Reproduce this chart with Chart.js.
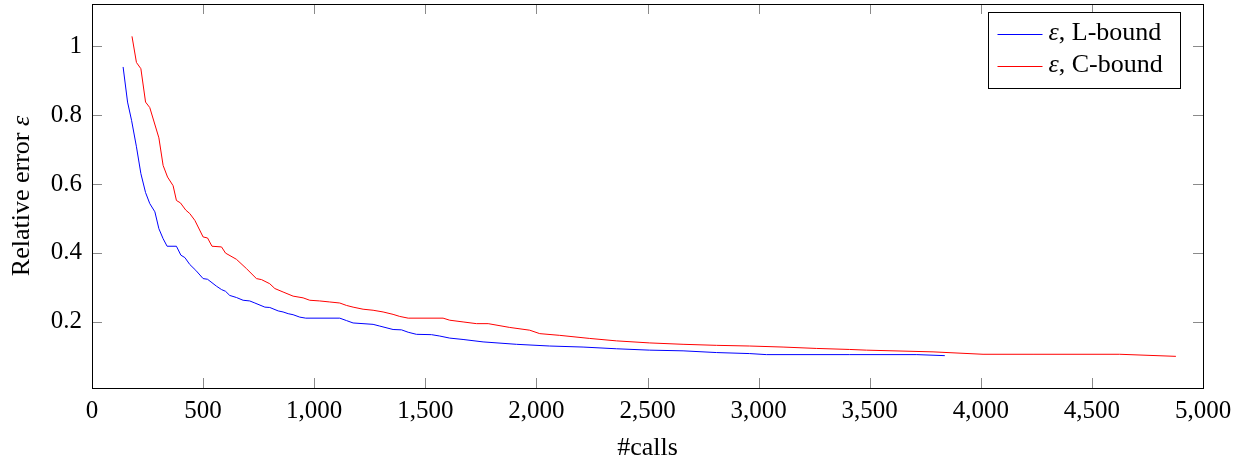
<!DOCTYPE html>
<html>
<head>
<meta charset="utf-8">
<script src="https://cdn.jsdelivr.net/npm/chart.js@4.4.0/dist/chart.umd.min.js"></script>
<style>
  html, body { margin: 0; padding: 0; background: #ffffff; }
  #wrap { width: 1245px; height: 467px; }
</style>
</head>
<body>
<div id="wrap"><canvas id="chart" width="1245" height="467"></canvas></div>
<script>
// ---- data ----
const lBoundX = [140, 160, 178, 200, 220, 241, 260, 283, 301, 320, 338, 380, 400, 418, 440, 467, 500, 520, 560, 583,
    601, 620, 650, 680, 710, 733, 778, 800, 838, 860, 883, 905, 935, 962, 1115, 1145, 1175, 1265, 1295, 1355,
    1393, 1423, 1460, 1528, 1565, 1610, 1670, 1760, 1910, 2060, 2210, 2360, 2510, 2660, 2810, 2960, 3035, 3410, 3712, 3838];
const lBoundY = [0.940, 0.838, 0.785, 0.708, 0.630, 0.575, 0.543, 0.519, 0.470, 0.441, 0.419, 0.419, 0.393, 0.386, 0.366, 0.349, 0.325, 0.323, 0.303, 0.293,
    0.288, 0.276, 0.270, 0.262, 0.260, 0.254, 0.242, 0.241, 0.231, 0.228, 0.223, 0.220, 0.213, 0.210, 0.210, 0.203, 0.196, 0.192, 0.187, 0.177,
    0.176, 0.169, 0.163, 0.162, 0.158, 0.152, 0.148, 0.141, 0.134, 0.129, 0.126, 0.121, 0.117, 0.115, 0.110, 0.107, 0.104, 0.104, 0.104, 0.101];

const cBoundX = [180, 200, 220, 241, 260, 301, 320, 340, 365, 380, 398, 422, 440, 463, 500, 520, 540, 583, 601, 650,
    695, 740, 763, 800, 823, 860, 905, 950, 980, 1025, 1070, 1115, 1145, 1175, 1220, 1265, 1310, 1355, 1385, 1423,
    1580, 1610, 1670, 1730, 1783, 1880, 1970, 2015, 2105, 2240, 2360, 2510, 2660, 2810, 2960, 3110, 3260, 3410, 3485, 3785,
    4010, 4235, 4625, 4878];
const cBoundY = [1.029, 0.953, 0.935, 0.838, 0.822, 0.734, 0.654, 0.620, 0.595, 0.552, 0.545, 0.524, 0.514, 0.494, 0.446, 0.443, 0.419, 0.417, 0.399, 0.381,
    0.354, 0.325, 0.322, 0.310, 0.296, 0.286, 0.274, 0.269, 0.262, 0.260, 0.257, 0.254, 0.247, 0.242, 0.236, 0.233, 0.228, 0.221, 0.215, 0.210,
    0.210, 0.204, 0.199, 0.194, 0.194, 0.183, 0.175, 0.165, 0.160, 0.151, 0.144, 0.138, 0.134, 0.131, 0.129, 0.126, 0.122, 0.119, 0.117, 0.112,
    0.105, 0.105, 0.105, 0.099];

const xTicks = [0, 500, 1000, 1500, 2000, 2500, 3000, 3500, 4000, 4500, 5000];
const yTicks = [0.2, 0.4, 0.6, 0.8, 1];

const seriesLabels = ['L-bound', 'C-bound'];
const seriesColors = ['#0000ff', '#ff0000'];
const yTitle = 'Relative error ';

const toPoints = (xs, ys) => xs.map((x, i) => ({ x: x, y: ys[i] }));

const SERIF = '"Liberation Serif", "Times New Roman", serif';
const TEXT_SIZE = 26;

// text followed by an italic epsilon, or epsilon followed by text
function drawEps(ctx, before, after, x, y, align) {
    const plain = TEXT_SIZE + 'px ' + SERIF;
    const ital = 'italic ' + TEXT_SIZE + 'px ' + SERIF;
    ctx.font = plain;
    const w1 = ctx.measureText(before).width;
    const w3 = ctx.measureText(after).width;
    ctx.font = ital;
    const w2 = ctx.measureText('\u03b5').width;
    let sx = x;
    if (align === 'center') sx = x - (w1 + w2 + w3) / 2;
    ctx.textAlign = 'left';
    ctx.font = plain;
    ctx.fillText(before, sx, y);
    ctx.font = ital;
    ctx.fillText('\u03b5', sx + w1, y);
    ctx.font = plain;
    ctx.fillText(after, sx + w1 + w2, y);
}

// frame, inward ticks, y title and boxed legend, pgfplots style
const framePlugin = {
    id: 'frame',
    afterDatasetsDraw(chart) {
        const ctx = chart.ctx;
        const area = chart.chartArea;
        const xs = chart.scales.x;
        const ys = chart.scales.y;
        const len = 10;

        ctx.save();
        ctx.lineWidth = 1;
        ctx.strokeStyle = '#8a8a8a';
        ctx.beginPath();
        xTicks.forEach(v => {
            const px = Math.round(xs.getPixelForValue(v)) + 0.5;
            ctx.moveTo(px, area.bottom);
            ctx.lineTo(px, area.bottom - len);
            ctx.moveTo(px, area.top);
            ctx.lineTo(px, area.top + len);
        });
        yTicks.forEach(v => {
            const py = Math.round(ys.getPixelForValue(v)) + 0.5;
            ctx.moveTo(area.left, py);
            ctx.lineTo(area.left + len, py);
            ctx.moveTo(area.right, py);
            ctx.lineTo(area.right - len, py);
        });
        ctx.stroke();

        ctx.strokeStyle = '#000000';
        ctx.strokeRect(Math.round(area.left) + 0.5, Math.round(area.top) + 0.5,
            Math.round(area.right - area.left), Math.round(area.bottom - area.top));

        // y axis title
        ctx.save();
        ctx.translate(22, (area.top + area.bottom) / 2);
        ctx.rotate(-Math.PI / 2);
        ctx.fillStyle = '#000000';
        ctx.textBaseline = 'middle';
        drawEps(ctx, yTitle, '', 0, 0, 'center');
        ctx.restore();

        // legend box
        const bw = 192, bh = 76;
        const bx = Math.round(area.right) - 215 + 0.5;
        const by = Math.round(area.top) + 8 + 0.5;
        ctx.fillStyle = '#ffffff';
        ctx.fillRect(bx, by, bw, bh);
        ctx.strokeStyle = '#000000';
        ctx.strokeRect(bx, by, bw, bh);

        ctx.textBaseline = 'middle';
        seriesLabels.forEach((label, i) => {
            const cy = by + 21 + i * 32;
            ctx.strokeStyle = seriesColors[i];
            ctx.beginPath();
            ctx.moveTo(bx + 9, Math.round(cy) + 0.5);
            ctx.lineTo(bx + 54, Math.round(cy) + 0.5);
            ctx.stroke();

            ctx.fillStyle = '#000000';
            drawEps(ctx, '', ', ' + label, bx + 60, cy, 'left');
        });
        ctx.restore();
    }
};

new Chart(document.getElementById('chart'), {
    type: 'line',
    data: {
        datasets: [{
            label: 'ε, ' + seriesLabels[0],
            data: toPoints(lBoundX, lBoundY),
            borderColor: seriesColors[0],
            borderWidth: 1,
            pointRadius: 0,
            tension: 0,
            fill: false
        }, {
            label: 'ε, ' + seriesLabels[1],
            data: toPoints(cBoundX, cBoundY),
            borderColor: seriesColors[1],
            borderWidth: 1,
            pointRadius: 0,
            tension: 0,
            fill: false
        }]
    },
    options: {
        responsive: false,
        animation: false,
        layout: {
            padding: { top: 4, right: 42, left: 0, bottom: 0 }
        },
        plugins: {
            legend: { display: false },
            tooltip: { enabled: false }
        },
        scales: {
            x: {
                type: 'linear',
                min: 0,
                max: 5000,
                grid: { display: false, drawTicks: false },
                border: { display: false },
                afterBuildTicks: scale => {
                    scale.ticks = xTicks.map(v => ({ value: v }));
                },
                afterFit: scale => {
                    scale.height = 79;
                    scale.paddingLeft = 0;
                    scale.paddingRight = 0;
                },
                ticks: {
                    color: '#000000',
                    padding: 8,
                    maxRotation: 0,
                    font: { family: SERIF, size: 25 },
                    callback: v => v.toLocaleString('en-US')
                },
                title: {
                    display: true,
                    text: '#calls',
                    color: '#000000',
                    font: { family: SERIF, size: TEXT_SIZE },
                    padding: { top: 0, bottom: 3 }
                }
            },
            y: {
                type: 'linear',
                min: 0.007,
                max: 1.123,
                grid: { display: false, drawTicks: false },
                border: { display: false },
                afterBuildTicks: scale => {
                    scale.ticks = yTicks.map(v => ({ value: v }));
                },
                afterFit: scale => {
                    scale.width = 92;
                    scale.paddingTop = 0;
                    scale.paddingBottom = 0;
                },
                ticks: {
                    color: '#000000',
                    padding: 10,
                    font: { family: SERIF, size: 25 },
                    callback: v => String(v)
                },
                title: { display: false }
            }
        }
    },
    plugins: [framePlugin]
});
</script>
</body>
</html>
